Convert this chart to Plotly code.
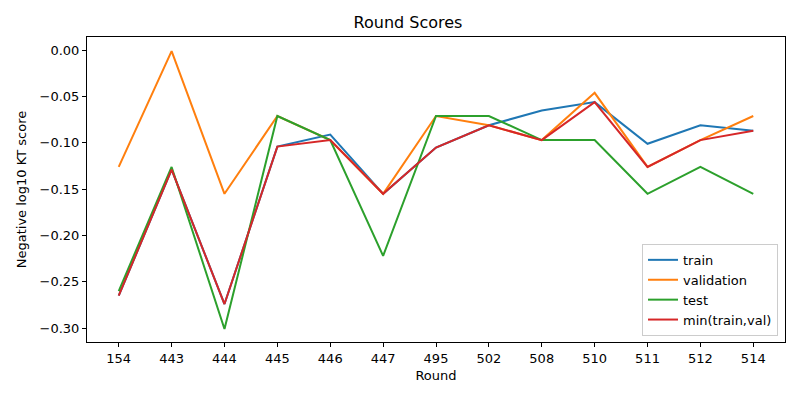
import plotly.graph_objects as go

rounds = ["154", "443", "444", "445", "446", "447", "495", "502", "508", "510", "511", "512", "514"]
train = [-0.265, -0.129, -0.274, -0.104, -0.091, -0.155, -0.105, -0.081, -0.065, -0.056, -0.101, -0.081, -0.087]
validation = [-0.126, -0.001, -0.155, -0.071, -0.097, -0.155, -0.071, -0.081, -0.097, -0.046, -0.126, -0.097, -0.071]
test = [-0.260, -0.126, -0.301, -0.071, -0.097, -0.222, -0.071, -0.071, -0.097, -0.097, -0.155, -0.126, -0.155]
min_train_val = [min(a, b) for a, b in zip(train, validation)]

fig = go.Figure()
series = [
    ("train", train, "#1f77b4"),
    ("validation", validation, "#ff7f0e"),
    ("test", test, "#2ca02c"),
    ("min(train,val)", min_train_val, "#d62728"),
]
for name, vals, color in series:
    fig.add_trace(go.Scatter(x=rounds, y=vals, mode="lines", name=name,
                             line=dict(color=color, width=2)))

axis_common = dict(showline=True, linecolor="black", linewidth=1, mirror=True,
                   ticks="outside", ticklen=4, tickcolor="black", showgrid=False,
                   zeroline=False, tickfont=dict(size=13, color="black"))

# page body adds an 8px offset, so margins are shifted to compensate
fig.update_layout(
    width=800, height=400,
    title=dict(text="Round Scores", x=0.5, xanchor="center", y=0.965, yanchor="middle",
               font=dict(size=16, color="black")),
    font=dict(family="DejaVu Sans", color="black"),
    plot_bgcolor="white", paper_bgcolor="white",
    margin=dict(l=79, r=23, t=29, b=66),
    xaxis=dict(type="category", range=[-0.6, 12.6],
               title=dict(text="Round", font=dict(size=13), standoff=6), **axis_common),
    yaxis=dict(range=[-0.315, 0.0143], tickvals=[-0.30, -0.25, -0.20, -0.15, -0.10, -0.05, 0.00],
               tickformat=".2f",
               title=dict(text="Negative log10 KT score", font=dict(size=13), standoff=10),
               **axis_common),
    legend=dict(x=0.99, y=0.02, xanchor="right", yanchor="bottom",
                bordercolor="#cccccc", borderwidth=1, bgcolor="rgba(255,255,255,0.8)",
                font=dict(size=13), tracegroupgap=0),
)

fig.write_html("out.html")
